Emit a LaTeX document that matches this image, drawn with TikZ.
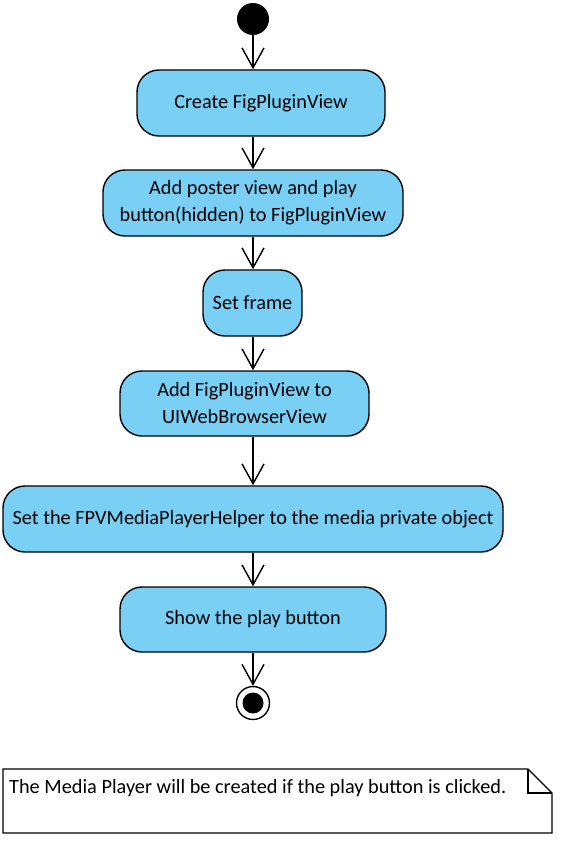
\documentclass[tikz,border=0pt]{standalone}
\usepackage{fontspec}
\setmainfont{Carlito}
\usetikzlibrary{arrows.meta}

\definecolor{actblue}{RGB}{122,207,245}

\begin{document}
\begin{tikzpicture}[x=1pt,y=-1pt,
		act/.style={draw, line width=1.4pt, fill=actblue, rounded corners=22pt, minimum height=66pt, inner sep=0pt, align=center, font=\fontsize{20.3}{27}\selectfont},
		dot/.style={circle, fill, inner sep=0pt},
		flow/.style={-{Straight Barb[length=20pt, width=22pt, line width=1.4pt]}, line width=1.4pt}]
		\useasboundingbox (0,0) rectangle (560,843);
		\begin{scope}
			\node[dot, minimum size=32pt] (st) at (253,19) {}; % inizio

			\node[act, minimum width=248pt] (b1) at (261,103) {Create FigPluginView};
			\node[act, minimum width=300pt] (b2) at (253,203) {Add poster view and play\\button(hidden) to FigPluginView};
			\node[act, minimum width=99pt] (b3) at (252.5,303) {Set frame};
			\node[act, minimum width=249pt, minimum height=65pt] (b4) at (244.5,403.5) {Add FigPluginView to\\UIWebBrowserView};
			\node[act, minimum width=500pt] (b5) at (253,519) {Set the FPVMediaPlayerHelper to the media private object};
			\node[act, minimum width=266pt, minimum height=65pt] (b6) at (253,619.5) {Show the play button};

			\node[circle, draw, fill=white, line width=1.4pt, minimum size=33pt, inner sep=0pt] (en) at (253,703) {}; % fine
			\node[dot, minimum size=21pt] (enin) at (en) {};

			\draw[flow] (st) -- (b1.north -| st);
			\draw[flow] (b1.south -| st) -- (b2.north -| st);
			\draw[flow] (b2.south -| st) -- (b3.north -| st);
			\draw[flow] (b3.south -| st) -- (b4.north -| st);
			\draw[flow] (b4.south -| st) -- (b5.north -| st);
			\draw[flow] (b5.south -| st) -- (b6.north -| st);
			\draw[flow] (b6.south -| st) -- (en.north);

			% nota
			\draw[line width=1.2pt] (3,769) -- (528,769) -- (552,793) -- (552,833) -- (3,833) -- cycle;
			\draw[line width=1.2pt] (528,769) -- (528,793) -- (552,793);
			\node[anchor=west, inner sep=0pt, font=\fontsize{20.3}{27}\selectfont] (nt) at (9,788) {The Media Player will be created if the play button is clicked.};
		\end{scope}
	\end{tikzpicture}
\end{document}
